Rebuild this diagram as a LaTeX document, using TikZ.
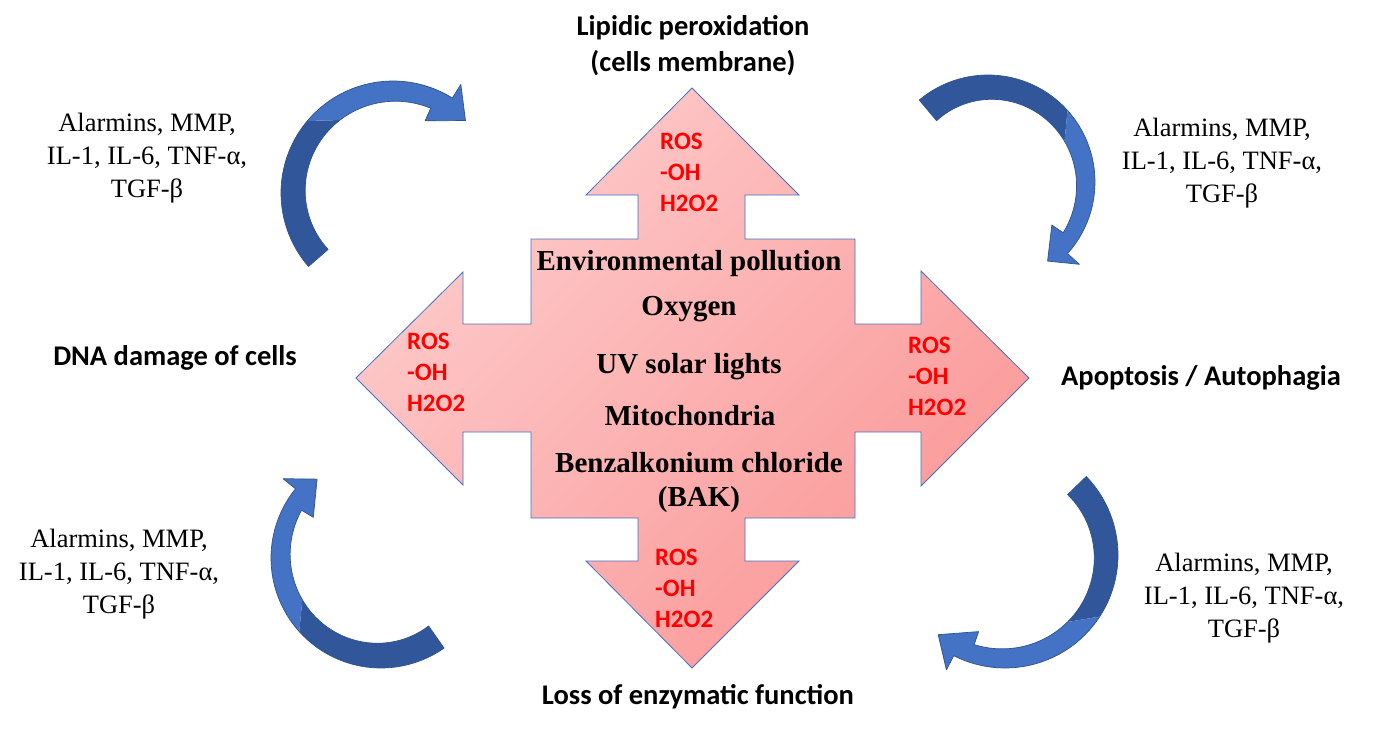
\documentclass[tikz,border=0pt]{standalone}
\usepackage{fontspec}
\setmainfont{Liberation Serif}
\newfontfamily\calfont{Carlito}
\definecolor{crossA}{HTML}{FECBCB}
\definecolor{crossB}{HTML}{FA9898}
\definecolor{crossline}{HTML}{4472C4}
\definecolor{arrlight}{HTML}{4472C4}
\definecolor{arrdark}{HTML}{31579A}
\definecolor{arrline}{HTML}{2F528F}
\definecolor{rosred}{HTML}{FF0000}
\newcommand{\carrow}[9]{%
  \pgfmathsetmacro{\cAo}{#5+4}%
  \pgfmathsetmacro{\cAi}{#5-4}%
  \pgfmathsetmacro{\cHo}{#7+16}%
  \pgfmathsetmacro{\cHi}{#9-14}%
  \pgfmathsetmacro{\cRt}{(#7+#9)/2}%
  \pgfmathsetmacro{\cSo}{#4-7}%
  \pgfmathsetmacro{\cSi}{#4+7}%
  \fill[arrdark] plot[domain=#3:\cSo,samples=30] ({#1+#7*cos(\x)},{#2+#7*sin(\x)})
    -- plot[domain=\cSi:#3,samples=30] ({#1+(#8+(#9-#8)*(\x-#3)/(#5-#3))*cos(\x)},{#2+(#8+(#9-#8)*(\x-#3)/(#5-#3))*sin(\x)}) -- cycle;
  \fill[arrlight] plot[domain=\cSo:\cAo,samples=30] ({#1+#7*cos(\x)},{#2+#7*sin(\x)})
    -- ({#1+\cHo*cos(\cAo)},{#2+\cHo*sin(\cAo)})
    -- ({#1+\cRt*cos(#6)},{#2+\cRt*sin(#6)})
    -- ({#1+\cHi*cos(\cAi)},{#2+\cHi*sin(\cAi)})
    -- plot[domain=\cAi:\cSi,samples=30] ({#1+(#8+(#9-#8)*(\x-#3)/(#5-#3))*cos(\x)},{#2+(#8+(#9-#8)*(\x-#3)/(#5-#3))*sin(\x)}) -- cycle;
  \draw[arrline,line width=0.7pt,line join=round] plot[domain=#3:\cAo,samples=50] ({#1+#7*cos(\x)},{#2+#7*sin(\x)})
    -- ({#1+\cHo*cos(\cAo)},{#2+\cHo*sin(\cAo)})
    -- ({#1+\cRt*cos(#6)},{#2+\cRt*sin(#6)})
    -- ({#1+\cHi*cos(\cAi)},{#2+\cHi*sin(\cAi)})
    -- plot[domain=\cAi:#3,samples=50] ({#1+(#8+(#9-#8)*(\x-#3)/(#5-#3))*cos(\x)},{#2+(#8+(#9-#8)*(\x-#3)/(#5-#3))*sin(\x)}) -- cycle;
}
\begin{document}
\begin{tikzpicture}[x=1pt,y=-1pt,
  serif/.style={font=\fontsize{26.5}{33}\selectfont, align=center, inner sep=0pt},
  ctr/.style={font=\fontsize{29}{32}\selectfont\bfseries, inner sep=0pt},
  lab/.style={font=\fontsize{28.5}{36}\selectfont\calfont\bfseries, align=center, inner sep=0pt},
  ros/.style={font=\fontsize{25}{31}\selectfont\calfont\bfseries, text=rosred, align=left, inner sep=0pt, anchor=west},
]
\useasboundingbox (0,0) rectangle (1387,736);
\fill[white] (0,0) rectangle (1387,736);

% central quad arrow
\path[draw=crossline, line width=0.8pt, top color=crossA, bottom color=crossB, shading angle=45]
  (692,88) -- (799,195) -- (745,195) -- (745,239) -- (855,239) -- (855,324)
  -- (921,324) -- (921,271) -- (1029,378) -- (921,486) -- (921,432) -- (855,432)
  -- (855,518) -- (745,518) -- (745,561) -- (799,561) -- (692,668) -- (586,561)
  -- (638,561) -- (638,518) -- (531,518) -- (531,432) -- (463,432) -- (463,485)
  -- (356,378) -- (463,272) -- (463,324) -- (531,324) -- (531,239) -- (638,239)
  -- (638,195) -- (586,195) -- cycle;

% red labels
\node[ros] (rosU) at (660,172) {ROS\\-OH\\H2O2};
\node[ros] (rosL) at (407,372) {ROS\\-OH\\H2O2};
\node[ros] (rosR) at (908,376) {ROS\\-OH\\H2O2};
\node[ros] (rosD) at (655,588) {ROS\\-OH\\H2O2};

% center text
\node[ctr] (env) at (689,264) {Environmental pollution};
\node[ctr] (oxy) at (689,309) {Oxygen};
\node[ctr] (uv) at (689,367) {UV solar lights};
\node[ctr] (mito) at (690,416) {Mitochondria};
\node[ctr] (benz) at (699,463) {Benzalkonium chloride};
\node[ctr] (bak) at (699,500) {(BAK)};

% outer labels
\node[lab] (lipid) at (693,46) {Lipidic peroxidation\\(cells membrane)};
\node[lab] (dna) at (175,358) {DNA damage of cells};
\node[lab] (apo) at (1201,378) {Apoptosis / Autophagia};
\node[lab] (loss) at (698,697) {Loss of enzymatic function};

% cytokine labels
\node[serif] (ctl) at (147,158) {Alarmins, MMP,\\IL-1, IL-6, TNF-α,\\TGF-β};
\node[serif] (ctr) at (1222,163) {Alarmins, MMP,\\IL-1, IL-6, TNF-α,\\TGF-β};
\node[serif] (cbl) at (119,574) {Alarmins, MMP,\\IL-1, IL-6, TNF-α,\\TGF-β};
\node[serif] (cbr) at (1244,598) {Alarmins, MMP,\\IL-1, IL-6, TNF-α,\\TGF-β};

% curved arrows
\carrow{393}{193}{139}{227}{298}{315}{112}{86}{93}
\carrow{988}{182}{230}{325}{398}{413}{107}{80}{91}
\carrow{381}{558}{55}{145}{215}{231}{110}{83}{93}
\carrow{1005}{555}{316}{400}{473}{490}{113}{87}{95}
\end{tikzpicture}
\end{document}
